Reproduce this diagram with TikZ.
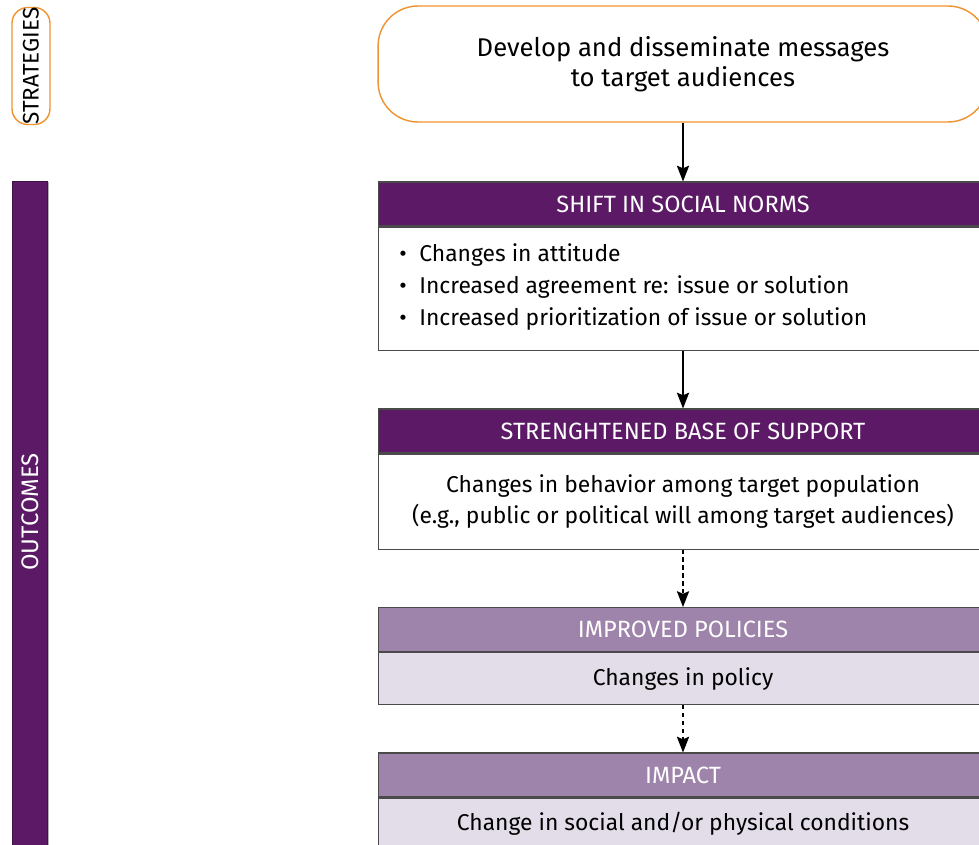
\documentclass[tikz,border=0pt]{standalone}
\usepackage{fontspec}
\setmainfont{Fira Sans}
\usetikzlibrary{arrows.meta}

\definecolor{stratOrange}{HTML}{F0932F}
\definecolor{darkPurple}{HTML}{5C1A66}
\definecolor{lightPurple}{HTML}{9E83AA}
\definecolor{palePurple}{HTML}{E3DDE9}
\definecolor{edgeGray}{HTML}{4A4A4A}

\newcommand{\boxWidth}{12.2cm}
\newcommand{\boxX}{683}
\newcommand{\headHeight}{0.88cm}

\tikzset{
  headbox/.style={draw=edgeGray, line width=0.6pt, fill=darkPurple, text=white,
    minimum width=\boxWidth, minimum height=\headHeight, inner sep=0pt,
    font=\fontsize{13.4}{16}\selectfont},
  lighthead/.style={headbox, fill=lightPurple},
  bodybox/.style={draw=edgeGray, line width=0.6pt, fill=white,
    minimum width=\boxWidth, inner sep=0pt, align=center,
    font=\fontsize{13}{17.2}\selectfont},
  lightbody/.style={bodybox, fill=palePurple},
  solidarrow/.style={draw=black, line width=0.7pt, -{Stealth[length=9pt,width=7pt,inset=1.5pt]}},
  dasharrow/.style={solidarrow, dash pattern=on 2.5pt off 2pt},
}

\begin{document}
\begin{tikzpicture}[x=0.02cm, y=-0.02cm]
  \useasboundingbox (0,0) rectangle (979,844);

  % Side labels
  \node[draw=stratOrange, line width=0.8pt, rounded corners=9pt, rotate=90,
        minimum width=2.32cm, minimum height=0.76cm, inner sep=0pt,
        font=\fontsize{12.8}{14}\selectfont] (strategies) at (31,66) {STRATEGIES};
  \fill[gray!60] (13.5,182.5) rectangle (48.5,860);
  \node[fill=darkPurple, draw=darkPurple!70!black, line width=0.4pt, anchor=north west,
        minimum width=0.7cm, minimum height=14cm, inner sep=0pt] (outbar) at (12,181) {};
  \node[rotate=90, text=white, font=\fontsize{13.6}{15}\selectfont] (outcomes) at (30,512) {OUTCOMES};

  % Strategy
  \node[draw=stratOrange, line width=0.8pt, fill=white, rounded corners=0.8cm,
        minimum width=\boxWidth, minimum height=2.32cm, align=center,
        font=\fontsize{14.6}{17}\selectfont] (develop) at (\boxX,64)
        {Develop and disseminate messages\\to target audiences};

  % Shift in social norms
  \node[headbox] (normsHead) at (\boxX,204) {SHIFT IN SOCIAL NORMS};
  \node[bodybox, anchor=north, minimum height=2.46cm] (normsBody) at (normsHead.south) {};
  \node[anchor=west, align=left, inner sep=0pt, font=\fontsize{13}{18.2}\selectfont] (normsList) at (399,287)
        {\textbullet\hspace{0.55em}Changes in attitude\\
         \textbullet\hspace{0.55em}Increased agreement re: issue or solution\\
         \textbullet\hspace{0.55em}Increased prioritization of issue or solution};

  % Strengthened base of support
  \node[headbox] (baseHead) at (\boxX,431) {STRENGHTENED BASE OF SUPPORT};
  \node[bodybox, anchor=north, minimum height=1.9cm] (baseBody) at (baseHead.south)
        {Changes in behavior among target population\\(e.g., public or political will among target audiences)};

  % Improved policies
  \node[lighthead] (policyHead) at (\boxX,629.5) {IMPROVED POLICIES};
  \node[lightbody, anchor=north, minimum height=1.04cm] (policyBody) at (policyHead.south) {Changes in policy};

  % Impact
  \node[lighthead] (impactHead) at (\boxX,775) {IMPACT};
  \node[lightbody, anchor=north, minimum height=1.04cm] (impactBody) at (impactHead.south)
        {Change in social and/or physical conditions};

  % Connectors
  \draw[solidarrow] (develop) -- (normsHead);
  \draw[solidarrow] (normsBody) -- (baseHead);
  \draw[dasharrow] (baseBody) -- (policyHead);
  \draw[dasharrow] (policyBody) -- (impactHead);
\end{tikzpicture}
\end{document}
